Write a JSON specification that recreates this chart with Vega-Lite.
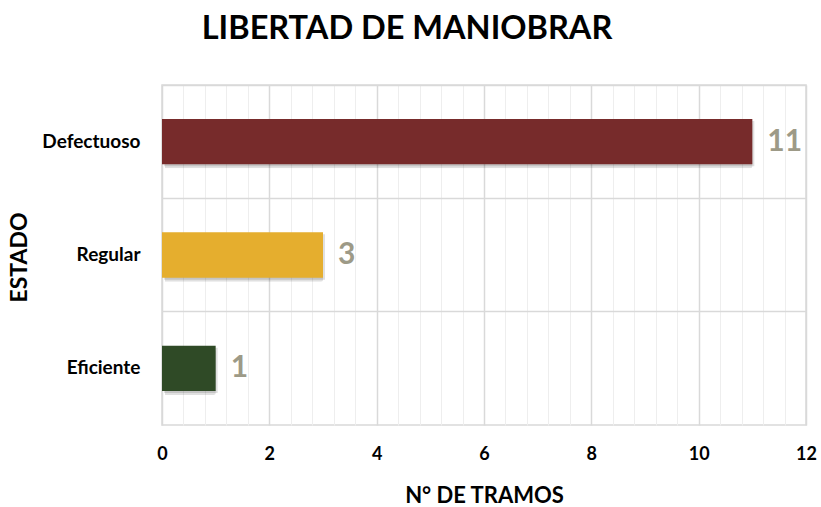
{
  "$schema": "https://vega.github.io/schema/vega-lite/v6.json",
  "autosize": "none",
  "width": 644,
  "height": 340,
  "padding": {"left": 162, "top": 85, "right": 15, "bottom": 82},
  "background": "white",
  "config": {
    "font": "Lato",
    "view": {"stroke": "#d9d9d9", "strokeWidth": 1.5}
  },
  "title": {
    "text": "LIBERTAD DE MANIOBRAR",
    "font": "Lato",
    "fontSize": 32.5,
    "fontWeight": "bold",
    "color": "#000000",
    "anchor": "middle",
    "frame": "group",
    "dx": -77,
    "baseline": "alphabetic",
    "offset": 14
  },
  "data": {
    "values": [
      {"estado": "Defectuoso", "tramos": 11},
      {"estado": "Regular", "tramos": 3},
      {"estado": "Eficiente", "tramos": 1}
    ]
  },
  "encoding": {
    "y": {
      "field": "estado",
      "type": "nominal",
      "sort": null,
      "scale": {"paddingInner": 0, "paddingOuter": 0},
      "axis": {
        "title": "ESTADO",
        "titleFont": "Lato",
        "titleFontSize": 23,
        "titleFontWeight": "bold",
        "titleColor": "#000000",
        "titleAngle": -90,
        "titleX": -143,
        "titleY": 172,
        "titleAlign": "center",
        "titleBaseline": "middle",
        "labelFont": "Lato",
        "labelFontSize": 19,
        "labelFontWeight": "bold",
        "labelColor": "#000000",
        "labelPadding": 22,
        "ticks": false,
        "domain": false,
        "grid": true,
        "bandPosition": 0,
        "gridColor": "#d9d9d9",
        "gridWidth": 1.5
      }
    },
    "x": {
      "field": "tramos",
      "type": "quantitative",
      "scale": {"domain": [0, 12], "nice": false},
      "axis": {
        "title": "N° DE TRAMOS",
        "titleFont": "Lato",
        "titleFontSize": 22,
        "titleFontWeight": "bold",
        "titleColor": "#000000",
        "titleY": 77,
        "titleBaseline": "alphabetic",
        "values": [0, 0.4, 0.8, 1.2, 1.6, 2, 2.4, 2.8, 3.2, 3.6, 4, 4.4, 4.8, 5.2, 5.6, 6, 6.4, 6.8, 7.2, 7.6, 8, 8.4, 8.8, 9.2, 9.6, 10, 10.4, 10.8, 11.2, 11.6, 12],
        "labelExpr": "abs(datum.value - round(datum.value / 2) * 2) < 0.01 ? format(datum.value, 'd') : ''",
        "labelOverlap": false,
        "labelFlush": false,
        "labelFont": "Lato",
        "labelFontSize": 18,
        "labelFontWeight": "bold",
        "labelColor": "#000000",
        "labelPadding": 20,
        "ticks": false,
        "domain": false,
        "grid": true,
        "gridColor": {
          "condition": {"test": "abs(datum.value - round(datum.value / 2) * 2) < 0.01", "value": "#d9d9d9"},
          "value": "#eeeeee"
        },
        "gridWidth": {
          "condition": {"test": "abs(datum.value - round(datum.value / 2) * 2) < 0.01", "value": 1.5},
          "value": 1
        }
      }
    }
  },
  "layer": [
    {
      "mark": {"type": "bar", "height": {"band": 0.4}, "color": "#000000", "opacity": 0.12, "xOffset": 3, "yOffset": 4, "cornerRadius": 2}
    },
    {
      "mark": {"type": "bar", "height": {"band": 0.4}, "color": "#000000", "opacity": 0.12, "xOffset": 2, "yOffset": 2}
    },
    {
      "mark": {"type": "bar", "height": {"band": 0.4}},
      "encoding": {
        "color": {
          "field": "estado",
          "type": "nominal",
          "scale": {"domain": ["Defectuoso", "Regular", "Eficiente"], "range": ["#772b2b", "#e5ae2e", "#2f4a26"]},
          "legend": null
        }
      }
    },
    {
      "mark": {"type": "text", "align": "left", "baseline": "middle", "dx": 15, "font": "Lato", "fontSize": 30, "fontWeight": "bold", "color": "#9d9a87"},
      "encoding": {"text": {"field": "tramos", "type": "quantitative"}}
    }
  ]
}
